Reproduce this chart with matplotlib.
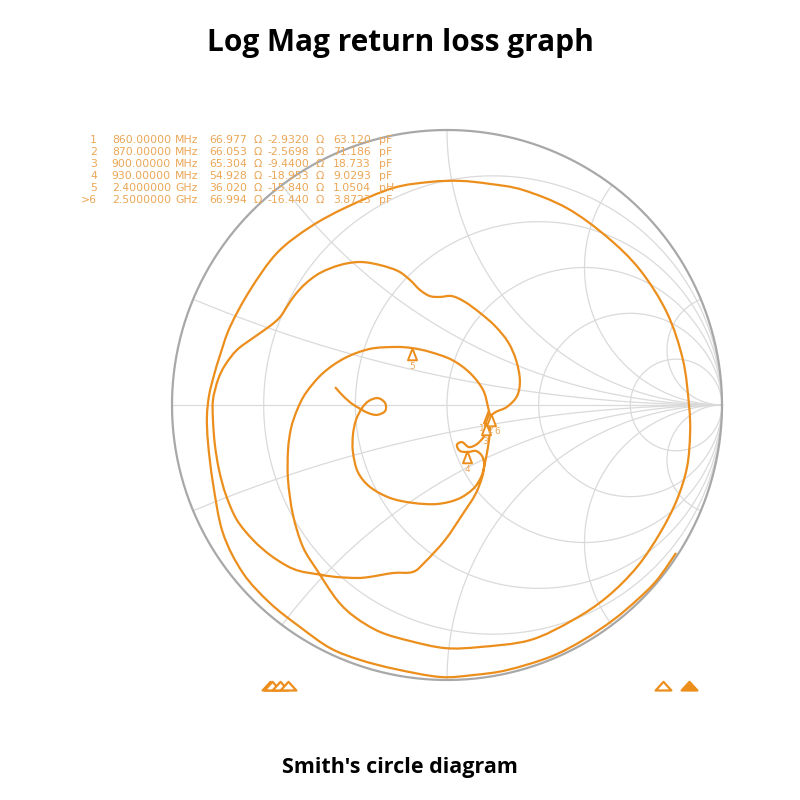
import numpy as np
import matplotlib.pyplot as plt
from matplotlib.path import Path
from matplotlib.patches import PathPatch

# marker readout table
marker_ids = ['1', '2', '3', '4', '5', '>6']
marker_freq = ['860.00000', '870.00000', '900.00000', '930.00000', '2.4000000', '2.5000000']
marker_unit = ['MHz', 'MHz', 'MHz', 'MHz', 'GHz', 'GHz']
marker_r = ['66.977', '66.053', '65.304', '54.928', '36.020', '66.994']
marker_x = ['-2.9320', '-2.5698', '-9.4400', '-18.953', '-15.840', '-16.440']
marker_lc = ['63.120', '71.186', '18.733', '9.0293', '1.0504', '3.8723']
marker_lc_unit = ['pF', 'pF', 'pF', 'pF', 'pH', 'pF']
marker_mhz = [860, 870, 900, 930, 2400, 2500]

# marker positions (reflection coefficient)
marker_re = [0.149, 0.153, 0.142, 0.073, -0.127, 0.160]
marker_im = [-0.022, -0.029, -0.065, -0.167, 0.207, -0.033]

trace_re = [0.833, 0.764, 0.691, 0.604, 0.495, 0.375, 0.218, 0.095, -0.025, -0.189,
            -0.316, -0.425, -0.535, -0.644, -0.742, -0.815, -0.851, -0.869, -0.873, -0.865,
            -0.847, -0.825, -0.789, -0.716, -0.618, -0.498, -0.364, -0.196, -0.062, 0.047,
            0.156, 0.276, 0.436, 0.582, 0.702, 0.800, 0.858, 0.880, 0.884, 0.873,
            0.836, 0.775, 0.691, 0.582, 0.458, 0.302, 0.120, -0.007, -0.135, -0.244,
            -0.335, -0.400, -0.473, -0.524, -0.560, -0.578, -0.578, -0.567, -0.545, -0.513,
            -0.451, -0.371, -0.280, -0.189, -0.127, -0.062, 0.018, 0.084, 0.131, 0.149,
            0.156, 0.156, 0.149, 0.138, 0.127, 0.102, 0.055, -0.007, -0.080, -0.124,
            -0.196, -0.280, -0.327, -0.407, -0.473, -0.535, -0.582, -0.644, -0.705, -0.764,
            -0.804, -0.829, -0.844, -0.851, -0.851, -0.833, -0.807, -0.764, -0.705, -0.644,
            -0.607, -0.578, -0.553, -0.516, -0.462, -0.389, -0.316, -0.244, -0.178, -0.135,
            -0.098, -0.062, -0.025, 0.018, 0.065, 0.120, 0.175, 0.222, 0.251, 0.265,
            0.255, 0.218, 0.178, 0.156, 0.145, 0.135, 0.109, 0.080, 0.055, 0.036,
            0.047, 0.076, 0.105, 0.127, 0.135, 0.124, 0.095, 0.040, -0.036, -0.124,
            -0.207, -0.280, -0.324, -0.342, -0.342, -0.331, -0.309, -0.284, -0.251, -0.225,
            -0.225, -0.255, -0.287, -0.313, -0.345, -0.378, -0.407]
trace_im = [-0.538, -0.636, -0.709, -0.782, -0.855, -0.916, -0.964, -0.982, -0.989, -0.960,
            -0.927, -0.884, -0.807, -0.720, -0.611, -0.465, -0.284, -0.138, -0.044, 0.036,
            0.109, 0.182, 0.284, 0.418, 0.553, 0.647, 0.720, 0.789, 0.811, 0.815,
            0.804, 0.782, 0.716, 0.611, 0.491, 0.335, 0.164, 0.000, -0.102, -0.225,
            -0.345, -0.465, -0.589, -0.698, -0.782, -0.855, -0.880, -0.884, -0.858, -0.825,
            -0.771, -0.709, -0.600, -0.516, -0.400, -0.273, -0.164, -0.084, -0.018, 0.044,
            0.116, 0.171, 0.204, 0.211, 0.207, 0.193, 0.164, 0.116, 0.055, -0.007,
            -0.044, -0.091, -0.153, -0.211, -0.265, -0.327, -0.400, -0.491, -0.571, -0.607,
            -0.611, -0.625, -0.629, -0.625, -0.615, -0.604, -0.585, -0.545, -0.491, -0.418,
            -0.327, -0.236, -0.145, -0.055, 0.018, 0.091, 0.145, 0.200, 0.244, 0.287,
            0.320, 0.364, 0.400, 0.440, 0.480, 0.509, 0.520, 0.509, 0.487, 0.455,
            0.418, 0.396, 0.393, 0.396, 0.375, 0.335, 0.287, 0.229, 0.164, 0.091,
            0.033, -0.007, -0.025, -0.044, -0.076, -0.113, -0.142, -0.153, -0.135, -0.145,
            -0.167, -0.171, -0.167, -0.185, -0.218, -0.262, -0.305, -0.342, -0.360, -0.356,
            -0.338, -0.298, -0.244, -0.171, -0.109, -0.055, -0.011, 0.015, 0.025, 0.007,
            -0.022, -0.036, -0.029, -0.015, 0.004, 0.033, 0.065]

r_circles = [0.2, 0.5, 1, 2, 5]
x_arcs = [0.2, 0.5, 1, 2, 5]

orange = '#ec8e1c'
text_orange = '#eba656'
grid_col = '#dadada'


def smooth_path(xs, ys):
    # catmull-rom through the read points, drawn as cubic beziers
    p = np.column_stack([xs, ys])
    p = np.vstack([p[0], p, p[-1]])
    verts = [p[1]]
    codes = [Path.MOVETO]
    for i in range(1, len(p) - 2):
        c1 = p[i] + (p[i + 1] - p[i - 1]) / 6
        c2 = p[i + 1] - (p[i + 2] - p[i]) / 6
        verts += [c1, c2, p[i + 1]]
        codes += [Path.CURVE4] * 3
    return Path(verts, codes)


fig = plt.figure(figsize=(8, 8), dpi=100)
ax = fig.add_axes([158.25 / 800, 106.25 / 800, 577.5 / 800, 577.5 / 800])
ax.set_xlim(-1.05, 1.05)
ax.set_ylim(-1.05, 1.05)
ax.set_aspect('equal')
ax.axis('off')

# smith grid
t = np.linspace(0, 2 * np.pi, 400)
for r in r_circles:
    c = r / (1 + r)
    rad = 1 / (1 + r)
    ax.plot(c + rad * np.cos(t), rad * np.sin(t), color=grid_col, lw=0.9, zorder=1)
rr = np.concatenate([[0], np.logspace(-3, 3, 400)])
for x in x_arcs:
    for s in (1, -1):
        z = rr + 1j * s * x
        g = (z - 1) / (z + 1)
        ax.plot(g.real, g.imag, color=grid_col, lw=0.9, zorder=1)
ax.plot([-1, 1], [0, 0], color=grid_col, lw=0.9, zorder=1)
ax.plot(np.cos(t), np.sin(t), color='#a8a8a8', lw=1.6, zorder=2)

# trace
ax.add_patch(PathPatch(smooth_path(trace_re, trace_im), fill=False, edgecolor=orange,
                       lw=1.6, zorder=3, joinstyle='round'))

# markers on the trace: apex at the point, triangle hanging below
tri = Path([(0, 0), (-0.42, -1.1), (0.42, -1.1), (0, 0)],
           [Path.MOVETO, Path.LINETO, Path.LINETO, Path.CLOSEPOLY])
label_dx = [-4.5, 0.5, -1, 0, 0, 4.5]
label_dy = [-9.5, -9.5, -10, -10, -10, -9.5]
for i in range(len(marker_re)):
    ax.plot(marker_re[i], marker_im[i], marker=tri, ms=17, mfc='white', mec=orange,
            mew=1.4, zorder=4)
    lab = marker_ids[i].replace('>', '')
    ax.annotate(lab, (marker_re[i], marker_im[i]), xytext=(label_dx[i], label_dy[i]),
                textcoords='offset points', ha='center', va='top',
                fontsize=6.5, color=text_orange, zorder=5)

# readout table
rows_y = [140, 152, 164, 176, 188, 200]
fs = 7.8
for i in range(len(marker_ids)):
    y = 1 - rows_y[i] / 800
    fig.text(97 / 800, y, marker_ids[i], ha='right', va='center', fontsize=fs, color=text_orange)
    fig.text(171 / 800, y, marker_freq[i], ha='right', va='center', fontsize=fs, color=text_orange)
    fig.text(175 / 800, y, marker_unit[i], ha='left', va='center', fontsize=fs, color=text_orange)
    fig.text(247 / 800, y, marker_r[i], ha='right', va='center', fontsize=fs, color=text_orange)
    fig.text(254 / 800, y, 'Ω', ha='left', va='center', fontsize=fs, color=text_orange)
    fig.text(309 / 800, y, marker_x[i], ha='right', va='center', fontsize=fs, color=text_orange)
    fig.text(316 / 800, y, 'Ω', ha='left', va='center', fontsize=fs, color=text_orange)
    fig.text(371 / 800, y, marker_lc[i], ha='right', va='center', fontsize=fs, color=text_orange)
    fig.text(379 / 800, y, marker_lc_unit[i], ha='left', va='center', fontsize=fs, color=text_orange)

# stimulus marker strip under the chart
sax = fig.add_axes([172 / 800, 108 / 800, 550 / 800, 14 / 800])
sax.set_xlim(477, 2629)
sax.set_ylim(0, 1)
sax.axis('off')
flat_tri = Path([(-1, 0), (1, 0), (0, 1.1), (-1, 0)],
                [Path.MOVETO, Path.LINETO, Path.LINETO, Path.CLOSEPOLY])
for i, f in enumerate(marker_mhz):
    active = marker_ids[i].startswith('>')
    sax.plot(f, 0.15, marker=flat_tri, ms=12.5, mfc=orange if active else 'white',
             mec=orange, mew=1.6, clip_on=False)

fig.text(0.5, 1 - 43 / 800, 'Log Mag return loss graph', ha='center', va='center',
         fontsize=21.5, fontweight='bold', family='Open Sans')
fig.text(0.5, 1 - 767 / 800, "Smith's circle diagram", ha='center', va='center',
         fontsize=15.5, fontweight='bold', family='Open Sans')

fig.savefig('out.png', dpi=100, facecolor='white')
